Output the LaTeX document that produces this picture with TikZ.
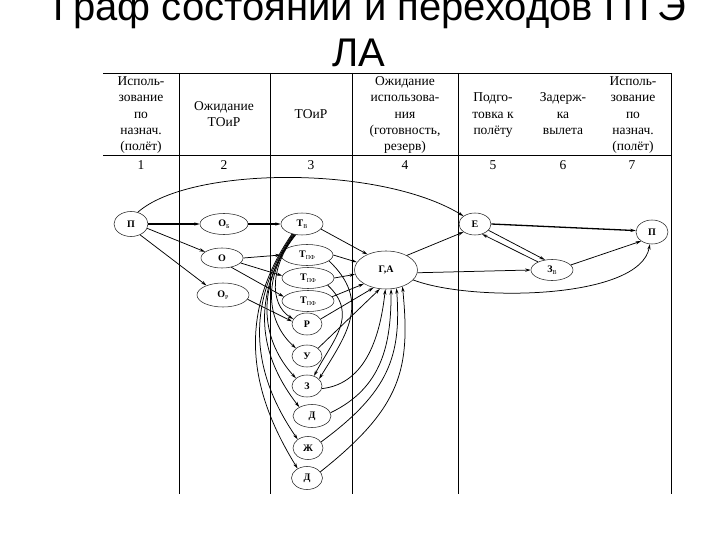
\documentclass[tikz,border=0pt]{standalone}
\usepackage{fontspec}
\setmainfont{Liberation Serif}
\newfontfamily\titlefont{Liberation Sans}
\usetikzlibrary{arrows.meta,shapes.geometric}
\newcommand\sbx[1]{\raisebox{-0.45ex}{\fontsize{6}{6}\selectfont\mdseries #1}}
\begin{document}
\begin{tikzpicture}[x=1pt,y=-1pt,
 st/.style={ellipse,draw=black!85,line width=0.55pt,inner sep=0pt,font=\fontsize{10}{11}\selectfont\bfseries},
 sz/.style 2 args={minimum width=#1pt,minimum height=#2pt},
 ed/.style={line width=0.75pt,-{Stealth[length=5.5pt,width=3.2pt]}},
 thk/.style={line width=1.3pt},
 tline/.style={line width=0.75pt},
 hdr/.style={align=center,font=\fontsize{13.5}{16.3}\selectfont,inner sep=0pt},
]
\useasboundingbox (0,0) rectangle (720,540);
\clip (0,0) rectangle (720,540);
% title
\node[font=\titlefont\fontsize{40}{46}\selectfont,anchor=base,inner sep=0pt] (t1) at (370,21) {Граф состояний и переходов ПТЭ};
\node[font=\titlefont\fontsize{40}{46}\selectfont,anchor=base,inner sep=0pt] (t2) at (359,67) {ЛА};
% table
\draw[tline] (103,73) -- (671,73);
\draw[tline] (103,155) -- (671,155);
\foreach \xx in {179,270,352,458,671} \draw[tline] (\xx,73) -- (\xx,494);
\node[hdr] (h1) at (141,115) {\strut Исполь-\\\strut зование\\\strut по\\\strut назнач.\\\strut (полёт)};
\node[hdr] (h2) at (224,115) {\strut Ожидание\\\strut ТОиР};
\node[hdr] (h3) at (311,115) {\strut ТОиР};
\node[hdr] (h4) at (405,115) {\strut Ожидание\\\strut использова-\\\strut ния\\\strut (готовность,\\\strut резерв)};
\node[hdr] (h5) at (493,115) {\strut Подго-\\\strut товка к\\\strut полёту};
\node[hdr] (h6) at (563,115) {\strut Задерж-\\\strut ка\\\strut вылета};
\node[hdr] (h7) at (633,115) {\strut Исполь-\\\strut зование\\\strut по\\\strut назнач.\\\strut (полёт)};
\node[hdr] (n1) at (141,166) {\strut 1};
\node[hdr] (n2) at (224,166) {\strut 2};
\node[hdr] (n3) at (311,166) {\strut 3};
\node[hdr] (n4) at (405,166) {\strut 4};
\node[hdr] (n5) at (493,166) {\strut 5};
\node[hdr] (n6) at (563,166) {\strut 6};
\node[hdr] (n7) at (632,166) {\strut 7};
% states
\node[st,sz={34}{25}] (p1) at (131,224) {П};
\node[st,sz={48}{21}] (ob) at (224,224) {О\sbx{Б}};
\node[st,sz={42}{22}] (tb) at (302,224) {Т\sbx{В}};
\node[st,sz={42}{20}] (o) at (222,258) {О};
\node[st,sz={52}{24}] (or) at (223,295) {О\sbx{Р}};
\node[st,sz={52}{21}] (tp1) at (307,255) {Т\sbx{ПФ}};
\node[st,sz={52}{21}] (tp2) at (308,278) {Т\sbx{ПФ}};
\node[st,sz={52}{21}] (tp3) at (308,301) {Т\sbx{ПФ}};
\node[st,sz={63}{38}] (ga) at (386,270) {Г,А};
\node[st,sz={32}{22}] (e) at (475,224) {Е};
\node[st,sz={32}{24}] (p2) at (652,232) {П};
\node[st,sz={42}{21}] (zv) at (552,270) {З\sbx{В}};
\node[st,sz={30}{22}] (r) at (307,324) {Р};
\node[st,sz={30}{22}] (u) at (307,356) {У};
\node[st,sz={30}{22}] (z) at (307,386) {З};
\node[st,sz={38}{23}] (d1) at (312,416) {Д};
\node[st,sz={30}{23}] (zh) at (308,448) {Ж};
\node[st,sz={31}{23}] (d2) at (307,478) {Д};
% left part
\draw[ed,thk] (p1) -- (ob);
\draw[ed] (p1.-15) -- (o.160);
\draw[ed] (p1.-50) -- (or.150);
\draw[ed] (p1.60) .. controls (190,166) and (380,165) .. (e.north west);
\draw[ed,thk] (ob) -- (tb);
\draw[ed] (o.east) -- (tp1.west);
\draw[ed] (o.-15) -- (tp2.175);
\draw[ed] (o.-45) -- (tp3.170);
\draw[ed] (or.-10) -- (r.170);
% fan from T_B
\draw[ed] (tb.240) .. controls +(-25,30) and +(-25,-15) .. (r.160);
\draw[ed] (tb.237) .. controls +(-35,45) and +(-28,-25) .. (u.145);
\draw[ed] (tb.234) .. controls +(-42,58) and +(-32,-35) .. (z.145);
\draw[ed] (tb.231) .. controls +(-48,70) and +(-35,-45) .. (d1.145);
\draw[ed] (tb.228) .. controls +(-55,80) and +(-38,-55) .. (zh.140);
\draw[ed] (tb.225) .. controls +(-62,90) and +(-40,-65) .. (d2.135);
% into Г,А
\draw[ed] (tb.-15) -- (ga.140);
\draw[ed] (tp1.east) -- (ga.165);
\draw[ed] (tp2.east) -- (ga.188);
\draw[ed] (tp3.10) -- (ga.212);
\draw[ed] (r.20) -- (ga.235);
\draw[ed] (u.35) -- (ga.252);
\draw[ed] (tp1.-15) .. controls +(42,40) and +(28,-45) .. (z.30);
\draw[ed] (tp2.-20) .. controls +(32,30) and +(18,-35) .. (z.55);
\draw[ed] (z.-10) .. controls +(45,-5) and +(-5,45) .. (ga.268);
\draw[ed] (d1.10) .. controls +(52,-25) and +(0,55) .. (ga.285);
\draw[ed] (zh.25) .. controls +(68,-50) and +(5,68) .. (ga.300);
\draw[ed] (d2.25) .. controls +(82,-65) and +(8,82) .. (ga.315);
% right part
\draw[ed] (ga.35) -- (e.215);
\draw[ed] (ga.-5) -- (zv.west);
\draw[ed] (ga.-20) .. controls (470,302) and (640,300) .. (p2.260);
\draw[ed,thk] (e.east) -- (p2.175);
\draw[ed] (e.-25) -- (zv.125);
\draw[ed] (zv.150) -- (e.-55);
\draw[ed] (zv.15) -- (p2.220);
\end{tikzpicture}
\end{document}
